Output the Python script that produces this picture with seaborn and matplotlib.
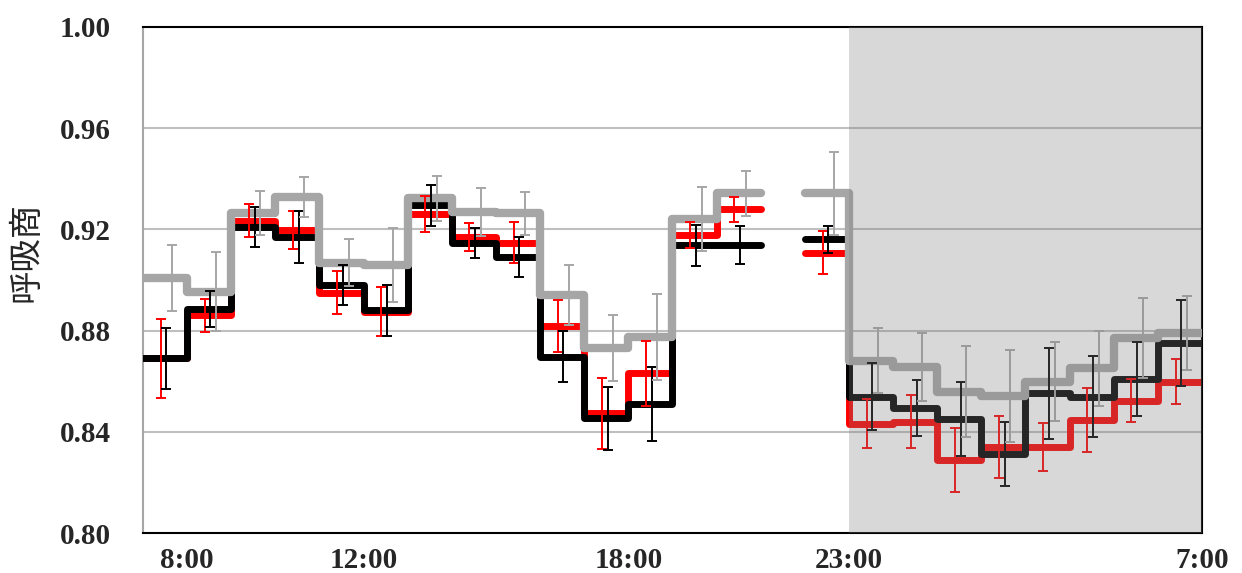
import numpy as np
import matplotlib
matplotlib.use('Agg')
import matplotlib.pyplot as plt
import seaborn as sns

# hourly bins, bin 0 = 7:00-8:00 ... bin 23 = 6:00-7:00 (next day); bin 14 has no data
hours = np.arange(24)
nan = np.nan

black = [0.869, 0.8885, 0.921, 0.917, 0.898, 0.888, 0.9296, 0.9145, 0.909, 0.8697, 0.8453, 0.851,
         0.9138, 0.9138, nan, 0.9161, 0.8539, 0.8493, 0.8449, 0.8312, 0.8552, 0.8539, 0.8609, 0.875]
black_err = [0.012, 0.007, 0.008, 0.0104, 0.008, 0.010, 0.0081, 0.006, 0.0079, 0.0101, 0.0124, 0.0145,
             0.0081, 0.0074, nan, 0.0053, 0.0132, 0.011, 0.0146, 0.0125, 0.0181, 0.016, 0.0146, 0.017]

red = [0.869, 0.886, 0.9235, 0.9198, 0.895, 0.8875, 0.9261, 0.9169, 0.9148, 0.8818, 0.8473, 0.8631,
       0.9178, 0.9279, nan, 0.9108, 0.8431, 0.844, 0.8289, 0.8339, 0.8341, 0.8447, 0.8523, 0.8598]
red_err = [0.0155, 0.0064, 0.0066, 0.0076, 0.0086, 0.0098, 0.007, 0.0055, 0.0081, 0.0101, 0.014, 0.0128,
           0.005, 0.0049, nan, 0.0084, 0.0097, 0.0105, 0.0126, 0.0122, 0.0094, 0.0125, 0.0086, 0.0088]

gray = [0.9009, 0.8954, 0.9264, 0.9329, 0.9068, 0.9059, 0.9323, 0.927, 0.9264, 0.8941, 0.873, 0.8776,
        0.924, 0.9343, nan, 0.9343, 0.8681, 0.8655, 0.8559, 0.8542, 0.8598, 0.8651, 0.877, 0.8789]
gray_err = [0.013, 0.0155, 0.0086, 0.008, 0.0093, 0.0146, 0.009, 0.0095, 0.0085, 0.0119, 0.013, 0.017,
            0.0126, 0.0089, nan, 0.0164, 0.0128, 0.0134, 0.0179, 0.0181, 0.0157, 0.0148, 0.0158, 0.0146]

tick_pos = [1, 5, 11, 16, 24]
tick_labels = ['8:00', '12:00', '18:00', '23:00', '7:00']
night_start, night_end = 16, 24

sns.set_style('white')
plt.rcParams['font.family'] = ['Liberation Serif', 'DejaVu Serif']

fig, ax = plt.subplots(figsize=(12.42, 5.73), dpi=100)
fig.subplots_adjust(left=0.1151, right=0.9678, top=0.9529, bottom=0.0698)

for y in [0.84, 0.88, 0.92, 0.96]:
    ax.axhline(y, color='#bfbfbf', lw=1.5, zorder=1)


def segments(vals):
    # split a series at the missing bins, return step-post x / y for each piece
    vals = np.asarray(vals, dtype=float)
    ok = ~np.isnan(vals)
    out, start = [], None
    for i in range(len(vals) + 1):
        if i < len(vals) and ok[i]:
            if start is None:
                start = i
        elif start is not None:
            xs = list(hours[start:i]) + [i]
            ys = list(vals[start:i]) + [vals[i - 1]]
            out.append((xs, ys))
            start = None
    return out


series = [
    (red, red_err, '#ff0000', 5.0, -0.10, 2),
    (black, black_err, '#000000', 5.0, 0.03, 3),
    (gray, gray_err, '#a6a6a6', 6.0, 0.16, 4),
]

for vals, errs, col, lw, off, z in series:
    for xs, ys in segments(vals):
        sns.lineplot(x=xs, y=ys, ax=ax, color=col, lw=lw, estimator=None,
                     drawstyle='steps-post', solid_capstyle='round',
                     solid_joinstyle='round', zorder=z)

for vals, errs, col, lw, off, z in series:
    v = np.asarray(vals, dtype=float)
    e = np.asarray(errs, dtype=float)
    m = ~np.isnan(v)
    ax.errorbar(hours[m] + 0.5 + off, v[m], yerr=e[m], fmt='none', ecolor=col,
                elinewidth=1.4, capsize=3.6, capthick=1.4, zorder=5)

# night period: translucent gray overlay on top of everything
ax.axvspan(night_start, night_end, color='#808080', alpha=0.3, lw=0, zorder=6)

ax.set_xlim(0, 24)
ax.set_ylim(0.80, 1.00)
ax.set_yticks(np.arange(0.80, 1.001, 0.04))
ax.set_yticklabels([f'{t:.2f}' for t in np.arange(0.80, 1.001, 0.04)])
ax.set_xticks(tick_pos)
ax.set_xticklabels(tick_labels)
ax.tick_params(axis='both', length=0, labelsize=21)
ax.tick_params(axis='y', pad=23)
ax.tick_params(axis='x', pad=10)
for lab in ax.get_xticklabels() + ax.get_yticklabels():
    lab.set_fontweight('bold')

for side in ['top', 'right', 'bottom']:
    ax.spines[side].set_color('#000000')
    ax.spines[side].set_linewidth(1.5)
ax.spines['left'].set_color('#a6a6a6')
ax.spines['left'].set_linewidth(1.5)

ax.set_xlabel('')
ax.set_ylabel('呼吸商', fontsize=24, family=['Noto Sans CJK JP', 'DejaVu Sans'])
ax.yaxis.set_label_coords(-0.094, 0.556)

fig.savefig('out.png', dpi=100)
